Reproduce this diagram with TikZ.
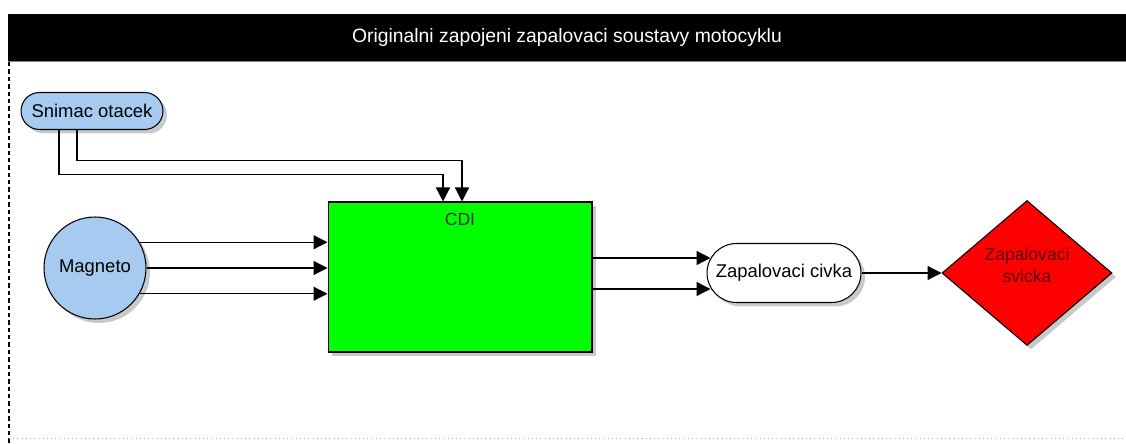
\documentclass[tikz,border=0pt]{standalone}
\usepackage{fontspec}
\setmainfont{Liberation Sans}
\usetikzlibrary{arrows.meta, positioning, shapes.geometric, shapes.misc, shadows}

\definecolor{skyblue}{RGB}{166,202,240}
\definecolor{cdigreen}{RGB}{0,255,0}
\definecolor{darkred}{RGB}{90,0,0}

\begin{document}
\begin{tikzpicture}[x=0.02cm, y=-0.02cm, font=\fontsize{10.5}{12}\selectfont,
  box/.style={draw, line width=0.6pt, inner sep=2pt,
    drop shadow={shadow xshift=0.08cm, shadow yshift=-0.08cm, fill=black!30, opacity=.7}},
  pill/.style={box, rounded rectangle},
  conn/.style={line width=0.7pt, -{Triangle[length=0.28cm, width=0.28cm]}}]
  \useasboundingbox (0,0) rectangle (1126,443);

  % frame
  \node[fill=black, text=white, minimum width=22.36cm, minimum height=0.94cm, inner sep=0,
    font=\fontsize{11}{13}\selectfont] (title) at (567,37.5)
    {Originalni zapojeni zapalovaci soustavy motocyklu};
  \draw[black!50] (title.south west) -- (title.south east);
  \draw[line width=0.6pt, dash pattern=on 2.5pt off 1.7pt] (9,62) -- (9,443);
  \draw[black!30, dotted] (9,438) -- (1126,438);

  % sources
  \node[pill, fill=skyblue, minimum width=2.98cm, minimum height=0.74cm] (snim) at (92,111) {Snimac otacek};
  \node[box, circle, fill=skyblue, minimum size=2.04cm] (mag) at (95,268) {Magneto};

  % CDI unit
  \node[box, fill=cdigreen, minimum width=5.28cm, minimum height=3cm] (cdi) at (460,277) {};
  \node[below=0.12cm of cdi.north, font=\fontsize{10}{12}\selectfont, text=black!80] (cdilbl) {CDI};

  % coil and plug
  \node[pill, fill=white, minimum width=3.22cm, minimum height=1.18cm] (coil) at (784,273) {Zapalovaci civka};
  \node[box, diamond, fill=red, minimum width=3.4cm, minimum height=2.9cm, inner sep=0, align=center,
    text=darkred, font=\fontsize{10}{12.5}\selectfont] (spark) at (1027,273) {Zapalovaci\\svicka\\[-4pt]};

  % connections
  \draw[conn] ([xshift=-0.66cm]snim.south) |- ([xshift=-0.34cm, yshift=0.54cm]cdi.north) -- ([xshift=-0.34cm]cdi.north);
  \draw[conn] ([xshift=-0.3cm]snim.south) |- ([xshift=0.04cm, yshift=0.82cm]cdi.north) -- ([xshift=0.04cm]cdi.north);
  \foreach \a in {30,0,-30}
    \draw[conn] (mag.\a) -- (mag.\a -| cdi.west);
  \coordinate (cin1) at ([xshift=0.08cm, yshift=0.3cm]coil.west);
  \coordinate (cin2) at ([xshift=0.08cm, yshift=-0.32cm]coil.west);
  \draw[conn] (cin1 -| cdi.east) -- (cin1);
  \draw[conn] (cin2 -| cdi.east) -- (cin2);
  \draw[conn] (coil.east) -- (spark.west);
\end{tikzpicture}
\end{document}
